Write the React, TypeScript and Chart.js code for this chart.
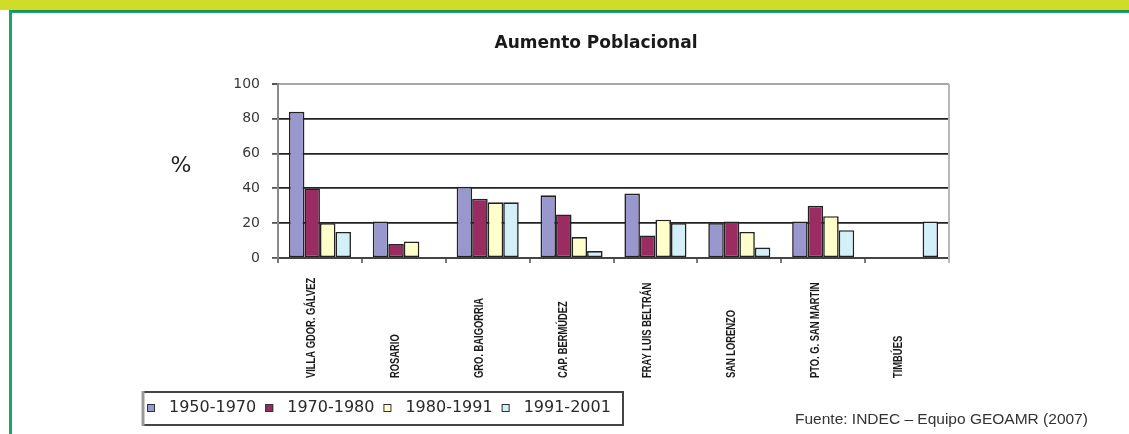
import React, { useEffect, useRef } from 'react';
import { Chart, registerables } from 'chart.js';

Chart.register(...registerables);

const titleText = 'Aumento Poblacional';
const yAxisLabel = '%';
const sourceText = 'Fuente: INDEC – Equipo GEOAMR (2007)';

const categories = [
  'VILLA GDOR. GÁLVEZ',
  'ROSARIO',
  'GRO. BAIGORRIA',
  'CAP. BERMÚDEZ',
  'FRAY LUIS BELTRÁN',
  'SAN LORENZO',
  'PTO. G. SAN MARTIN',
  'TIMBÚES',
];

const seriesLabels = ['1950-1970', '1970-1980', '1980-1991', '1991-2001'];

const values1950_1970 = [84, 21, 41, 36, 37, 20, 21, null];
const values1970_1980 = [40, 8, 34, 25, 13, 21, 30, null];
const values1980_1991 = [20, 9.5, 32, 12, 22, 15, 24, null];
const values1991_2001 = [15, null, 32, 4, 20, 6, 16, 21];

const yTicks = [0, 20, 40, 60, 80, 100];

const seriesColors = ['#9898cf', '#9b2c62', '#ffffcc', '#d3eff7'];

const decorPlugin = {
  id: 'decor',
  afterDraw(chart: any) {
    const ctx = chart.ctx as CanvasRenderingContext2D;
    const area = chart.chartArea;
    const xs = chart.scales.x;
    ctx.save();

    // right border of plot
    ctx.strokeStyle = '#b8b8b8';
    ctx.lineWidth = 2;
    ctx.beginPath();
    ctx.moveTo(area.right, area.top);
    ctx.lineTo(area.right, area.bottom + 5);
    ctx.stroke();

    // title
    ctx.fillStyle = '#1a1a1a';
    ctx.font = 'bold 17px "DejaVu Sans"';
    ctx.textAlign = 'center';
    ctx.textBaseline = 'middle';
    ctx.fillText(titleText, 596, 44);

    // % label
    ctx.font = '22px "DejaVu Sans"';
    ctx.fillStyle = '#222';
    ctx.fillText(yAxisLabel, 181, 166);

    // category labels (rotated, bottom aligned)
    ctx.fillStyle = '#1a1a1a';
    ctx.font = 'bold 12px "Liberation Sans"';
    ctx.textAlign = 'left';
    ctx.textBaseline = 'middle';
    chart.data.labels.forEach((lab: string, i: number) => {
      const px = xs.getPixelForValue(i) - 8;
      ctx.save();
      ctx.translate(px, 378);
      ctx.rotate(-Math.PI / 2);
      ctx.scale(0.78, 1);
      ctx.fillText(lab, 0, 0);
      ctx.restore();
    });

    // legend
    const lx0 = 143, ly0 = 392, lx1 = 623, ly1 = 425;
    ctx.fillStyle = '#fff';
    ctx.fillRect(lx0, ly0, lx1 - lx0, ly1 - ly0);
    ctx.strokeStyle = '#444';
    ctx.lineWidth = 2;
    ctx.beginPath();
    ctx.moveTo(lx0, ly0);
    ctx.lineTo(lx1, ly0);
    ctx.lineTo(lx1, ly1);
    ctx.lineTo(lx0, ly1);
    ctx.stroke();
    ctx.strokeStyle = '#9a9a9a';
    ctx.lineWidth = 3;
    ctx.beginPath();
    ctx.moveTo(lx0, ly0 - 1);
    ctx.lineTo(lx0, ly1 + 1);
    ctx.stroke();

    ctx.font = '16px "DejaVu Sans"';
    ctx.textAlign = 'left';
    ctx.textBaseline = 'middle';
    let x = 147;
    const cy = 408;
    chart.data.datasets.forEach((ds: any) => {
      ctx.fillStyle = ds.backgroundColor;
      ctx.fillRect(x, cy - 4, 8, 8);
      ctx.strokeStyle = '#333';
      ctx.lineWidth = 1;
      ctx.strokeRect(x + 0.5, cy - 3.5, 7, 7);
      ctx.fillStyle = '#2a2a2a';
      const tx = x + 22;
      ctx.fillText(ds.label, tx, cy);
      x = tx + ctx.measureText(ds.label).width + 9;
    });

    // source
    ctx.font = '15.5px "Liberation Sans"';
    ctx.fillStyle = '#333';
    ctx.fillText(sourceText, 795, 420);

    ctx.restore();
  },
};

export default function App() {
  const ref = useRef<HTMLCanvasElement>(null);

  useEffect(() => {
    if (!ref.current) return;
    const seriesValues = [values1950_1970, values1970_1980, values1980_1991, values1991_2001];
    const chart = new Chart(ref.current, {
      type: 'bar',
      data: {
        labels: categories,
        datasets: seriesLabels.map((label, i) => ({
          label,
          data: seriesValues[i],
          backgroundColor: seriesColors[i],
          borderColor: '#222',
          borderWidth: 1.6,
          borderSkipped: false,
          categoryPercentage: 0.74,
          barPercentage: 1.0,
        })),
      },
      options: {
        responsive: false,
        animation: false,
        maintainAspectRatio: false,
        layout: { padding: { top: 84, left: 218, right: 180, bottom: 166 } },
        plugins: {
          legend: { display: false },
          title: { display: false },
          tooltip: { enabled: false },
        },
        scales: {
          x: {
            offset: true,
            grid: {
              offset: true,
              drawOnChartArea: false,
              drawTicks: true,
              tickLength: 5,
              color: '#7a7a7a',
              lineWidth: 2,
            },
            border: { color: '#444', width: 2 },
            ticks: { display: false },
            afterFit: (s: any) => { s.height = 10; },
          },
          y: {
            min: 0,
            max: 100,
            afterBuildTicks: (s: any) => { s.ticks = yTicks.map((v) => ({ value: v })); },
            grid: {
              color: (c: any) => (c.tick && c.tick.value === 100 ? '#a8a8a8' : c.tick && c.tick.value === 0 ? '#444' : '#222'),
              lineWidth: (c: any) => (c.tick && c.tick.value === 100 ? 2 : 1.8),
              tickColor: '#555',
              tickLength: 6,
              drawTicks: true,
            },
            border: { color: '#8a8a8a', width: 2 },
            ticks: {
              padding: 12,
              color: '#3a3a3a',
              font: { family: '"DejaVu Sans"', size: 14 },
            },
            afterFit: (s: any) => { s.width = 60; },
          },
        },
      },
      plugins: [decorPlugin],
    });
    return () => chart.destroy();
  }, []);

  return (
    <div style={{ position: 'absolute', left: 0, top: 0, width: 1129, height: 434, background: '#fff', overflow: 'hidden' }}>
      <div style={{ position: 'absolute', left: 0, top: 0, width: 1129, height: 10, background: '#cfdc29' }} />
      <div style={{ position: 'absolute', left: 9, top: 10, width: 1120, height: 2, background: '#1f9444' }} />
      <div style={{ position: 'absolute', left: 9, top: 12, width: 1120, height: 1, background: '#22a57c' }} />
      <div style={{ position: 'absolute', left: 9, top: 10, width: 3, height: 424, background: '#1da462' }} />
      <canvas ref={ref} width={1129} height={434} style={{ position: 'absolute', left: 0, top: 0, width: 1129, height: 434 }} />
    </div>
  );
}
